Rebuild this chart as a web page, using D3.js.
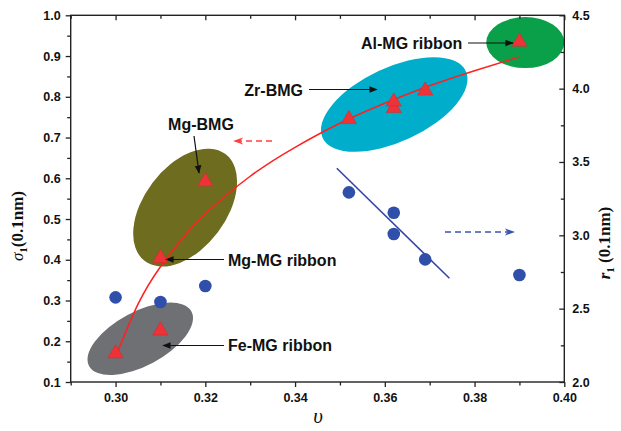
<!DOCTYPE html>
<html>
<head>
<meta charset="utf-8">
<script src="https://cdn.jsdelivr.net/npm/d3@7"></script>
<style>
  html, body { margin: 0; padding: 0; background: #fff; }
  svg { display: block; }
</style>
</head>
<body>
<svg id="chart" width="621" height="431"></svg>
<script>
// ---------------- data ----------------
const xTicks = [0.30, 0.32, 0.34, 0.36, 0.38, 0.40];
const yLeftTicks = [0.1, 0.2, 0.3, 0.4, 0.5, 0.6, 0.7, 0.8, 0.9, 1.0];
const yRightTicks = [2.0, 2.5, 3.0, 3.5, 4.0, 4.5];

// sigma_1 (left axis), red triangles
const triNu    = [0.300, 0.310, 0.310, 0.320, 0.352, 0.362, 0.362, 0.369, 0.390];
const triSigma = [0.170, 0.226, 0.404, 0.592, 0.745, 0.772, 0.788, 0.815, 0.935];

// r_1 (right axis), blue circles
const dotNu = [0.300, 0.310, 0.320, 0.352, 0.362, 0.362, 0.369, 0.390];
const dotR  = [2.577, 2.545, 2.654, 3.293, 3.154, 3.009, 2.836, 2.729];

// red fitted curve (left axis)
const fitNu    = [0.300, 0.305, 0.310, 0.315, 0.320, 0.330, 0.340, 0.350, 0.360, 0.370, 0.380, 0.390];
const fitSigma = [0.161, 0.291, 0.383, 0.454, 0.513, 0.605, 0.676, 0.735, 0.784, 0.827, 0.864, 0.898];

// blue fitted line (right axis)
const lineNu = [0.3493, 0.3744];
const lineR  = [3.457, 2.707];

// groups (labels)
const groupNames = ["Al-MG ribbon", "Zr-BMG", "Mg-BMG", "Mg-MG ribbon", "Fe-MG ribbon"];

// ---------------- layout ----------------
const svg = d3.select("#chart");
const L = 70.7, R = 564.3, T = 15.3, B = 382;
const x = d3.scaleLinear().domain([0.29, 0.40]).range([L, R]);
const yL = d3.scaleLinear().domain([0.1, 1.0]).range([B, T]);
const yR = d3.scaleLinear().domain([2.0, 4.5]).range([B, T]);

const tickFont = "Liberation Sans, Arial, sans-serif";

svg.append("defs").html(`
  <marker id="ah" viewBox="0 0 10 10" refX="9" refY="5" markerWidth="7" markerHeight="7" orient="auto-start-reverse">
    <path d="M0,1 L10,5 L0,9 z" fill="#111"/>
  </marker>
  <marker id="ahRed" viewBox="0 0 10 10" refX="9" refY="5" markerWidth="8" markerHeight="8" orient="auto-start-reverse">
    <path d="M0,1.5 L10,5 L0,8.5 L3,5 z" fill="#ff4040"/>
  </marker>
  <marker id="ahBlue" viewBox="0 0 10 10" refX="9" refY="5" markerWidth="8" markerHeight="8" orient="auto-start-reverse">
    <path d="M0,1.5 L10,5 L0,8.5 L3,5 z" fill="#3a55b0"/>
  </marker>
  <clipPath id="plotClip"><rect x="${L}" y="${T}" width="${R-L}" height="${B-T}"/></clipPath>
`);

// ---------------- ellipses (annotation regions, centred in data units of left axis) ----------------
const ellipses = [
  { nu: 0.3913, s: 0.933, rx: 39,   ry: 25.5, rot: 0,   fill: "#0aa04a" },
  { nu: 0.3621, s: 0.781, rx: 79,   ry: 37,   rot: -25, fill: "#00aecb" },
  { nu: 0.3155, s: 0.528, rx: 67,   ry: 41,   rot: -53, fill: "#6e6d1f" },
  { nu: 0.3055, s: 0.206, rx: 58,   ry: 27,   rot: -28, fill: "#6f7073" }
];
const eg = svg.append("g").attr("clip-path", "url(#plotClip)");
eg.selectAll("ellipse").data(ellipses).join("ellipse")
  .attr("cx", 0).attr("cy", 0)
  .attr("rx", d => d.rx).attr("ry", d => d.ry)
  .attr("transform", d => `translate(${x(d.nu)},${yL(d.s)}) rotate(${d.rot})`)
  .attr("fill", d => d.fill);

// ---------------- axes ----------------
const axisColor = "#222";
function styleAxis(g) {
  g.select(".domain").remove();
  g.selectAll("line").attr("stroke", axisColor).attr("stroke-width", 1.3);
  g.selectAll("text").attr("font-family", tickFont).attr("font-weight", "bold")
    .attr("font-size", 12.5).attr("fill", "#111");
}
const minorX = d3.range(0.29, 0.4001, 0.01).map(v => +v.toFixed(2)).filter(v => !xTicks.includes(v));
const minorYL = d3.range(0.15, 1.0, 0.1).map(v => +v.toFixed(2));
const minorYR = d3.range(2.25, 4.5, 0.5).map(v => +v.toFixed(2));

// bottom
svg.append("g").attr("transform", `translate(0,${B})`)
  .call(d3.axisBottom(x).tickValues(xTicks).tickFormat(d3.format(".2f")).tickSize(5).tickPadding(6))
  .call(styleAxis);
svg.append("g").attr("transform", `translate(0,${B})`)
  .call(d3.axisBottom(x).tickValues(minorX).tickFormat("").tickSize(3.5))
  .call(styleAxis);
// top (inward, no labels)
svg.append("g").attr("transform", `translate(0,${T})`)
  .call(d3.axisBottom(x).tickValues(xTicks).tickFormat("").tickSize(5))
  .call(styleAxis);
svg.append("g").attr("transform", `translate(0,${T})`)
  .call(d3.axisBottom(x).tickValues(minorX).tickFormat("").tickSize(3.5))
  .call(styleAxis);
// left
svg.append("g").attr("transform", `translate(${L},0)`)
  .call(d3.axisLeft(yL).tickValues(yLeftTicks).tickFormat(d3.format(".1f")).tickSize(5).tickPadding(5))
  .call(styleAxis);
svg.append("g").attr("transform", `translate(${L},0)`)
  .call(d3.axisLeft(yL).tickValues(minorYL).tickFormat("").tickSize(3.5))
  .call(styleAxis);
// right (ticks inward, labels outside)
svg.append("g").attr("transform", `translate(${R},0)`)
  .call(d3.axisRight(yR).tickValues(yRightTicks).tickFormat(d3.format(".1f")).tickSize(0).tickPadding(8))
  .call(styleAxis);
svg.append("g").attr("transform", `translate(${R},0)`)
  .call(d3.axisLeft(yR).tickValues(yRightTicks).tickFormat("").tickSize(5))
  .call(styleAxis);
svg.append("g").attr("transform", `translate(${R},0)`)
  .call(d3.axisLeft(yR).tickValues(minorYR).tickFormat("").tickSize(3.5))
  .call(styleAxis);

// frame
svg.append("rect").attr("x", L).attr("y", T).attr("width", R - L).attr("height", B - T)
  .attr("fill", "none").attr("stroke", axisColor).attr("stroke-width", 1.4);

// ---------------- fitted curves ----------------
const fitData = fitNu.map((v, i) => [v, fitSigma[i]]);
svg.append("path").datum(fitData)
  .attr("d", d3.line().x(d => x(d[0])).y(d => yL(d[1])).curve(d3.curveNatural))
  .attr("fill", "none").attr("stroke", "#ff2020").attr("stroke-width", 1.5);

const lineData = lineNu.map((v, i) => [v, lineR[i]]);
svg.append("path").datum(lineData)
  .attr("d", d3.line().x(d => x(d[0])).y(d => yR(d[1])))
  .attr("fill", "none").attr("stroke", "#3446a8").attr("stroke-width", 1.6);

// ---------------- markers ----------------
const dots = dotNu.map((v, i) => [v, dotR[i]]);
svg.append("g").selectAll("circle").data(dots).join("circle")
  .attr("cx", d => x(d[0])).attr("cy", d => yR(d[1])).attr("r", 6.3)
  .attr("fill", "#2f4fab");

const tris = triNu.map((v, i) => [v, triSigma[i]]);
const triSym = d3.symbol().type(d3.symbolTriangle).size(100);
svg.append("g").selectAll("path").data(tris).join("path")
  .attr("d", triSym)
  .attr("transform", d => `translate(${x(d[0])},${yL(d[1])})`)
  .attr("fill", "#ee3338").attr("stroke", "#d42a2f").attr("stroke-width", 0.6);

// ---------------- group labels + arrows ----------------
const labelFont = "Liberation Sans, Arial, sans-serif";
const labels = [
  { text: groupNames[0], tx: 361, ty: 49,  anchor: "start",  a: [468, 43, 513, 43] },
  { text: groupNames[1], tx: 303, ty: 96,  anchor: "end",    a: [309, 89.5, 377, 89.5] },
  { text: groupNames[2], tx: 201, ty: 130, anchor: "middle", a: [194, 136, 199, 173] },
  { text: groupNames[3], tx: 228, ty: 266, anchor: "start",  a: [224, 259.5, 166, 259.5] },
  { text: groupNames[4], tx: 228, ty: 351, anchor: "start",  a: [224, 345.5, 163, 345.5] }
];
const lg = svg.append("g");
lg.selectAll("line").data(labels).join("line")
  .attr("x1", d => d.a[0]).attr("y1", d => d.a[1]).attr("x2", d => d.a[2]).attr("y2", d => d.a[3])
  .attr("stroke", "#111").attr("stroke-width", 1.2).attr("marker-end", "url(#ah)");
lg.selectAll("text").data(labels).join("text")
  .attr("x", d => d.tx).attr("y", d => d.ty).attr("text-anchor", d => d.anchor)
  .attr("font-family", labelFont).attr("font-weight", "bold").attr("font-size", 16)
  .attr("fill", "#111").text(d => d.text);

// dashed axis-indicator arrows
svg.append("line").attr("x1", 272).attr("y1", 141).attr("x2", 234).attr("y2", 141)
  .attr("stroke", "#ff4040").attr("stroke-width", 1.3).attr("stroke-dasharray", "6,4")
  .attr("marker-end", "url(#ahRed)");
svg.append("line").attr("x1", 445).attr("y1", 232).attr("x2", 514).attr("y2", 232)
  .attr("stroke", "#3a55b0").attr("stroke-width", 1.3).attr("stroke-dasharray", "6,4")
  .attr("marker-end", "url(#ahBlue)");

// ---------------- axis titles ----------------
const serif = "Liberation Serif, Times New Roman, serif";
const lt = svg.append("text").attr("transform", "translate(23,226) rotate(-90)")
  .attr("text-anchor", "middle").attr("font-family", serif).attr("font-size", 17)
  .attr("font-weight", "bold").attr("fill", "#111");
lt.append("tspan").attr("font-style", "italic").attr("font-weight", "normal").text("σ");
lt.append("tspan").attr("font-size", 11).attr("dy", 4).text("1");
lt.append("tspan").attr("dy", -4).text("(0.1nm)");

const rt = svg.append("text").attr("transform", "translate(610,243) rotate(-90)")
  .attr("text-anchor", "middle").attr("font-family", serif).attr("font-size", 17)
  .attr("font-weight", "bold").attr("fill", "#111");
rt.append("tspan").attr("font-style", "italic").text("r");
rt.append("tspan").attr("font-size", 11).attr("dy", 4).text("1");
rt.append("tspan").attr("dy", -4).text(" (0.1nm)");

svg.append("text").attr("x", 318).attr("y", 423).attr("text-anchor", "middle")
  .attr("font-family", serif).attr("font-style", "italic").attr("font-size", 21)
  .attr("fill", "#111").text("υ");
</script>
</body>
</html>
